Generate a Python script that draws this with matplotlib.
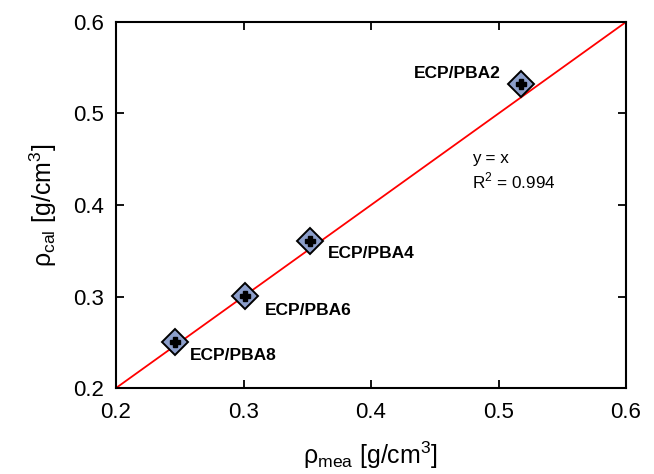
import numpy as np
import matplotlib.pyplot as plt

plt.rcParams['font.family'] = ['Liberation Sans', 'DejaVu Sans']

names = ['ECP/PBA8', 'ECP/PBA6', 'ECP/PBA4', 'ECP/PBA2']
rho_mea = [0.246, 0.301, 0.352, 0.518]
rho_cal = [0.250, 0.301, 0.361, 0.532]
# label offsets in data units
lab_dx = [0.012, 0.0155, 0.014, -0.084]
lab_dy = [-0.015, -0.016, -0.0135, 0.012]

fig = plt.figure(figsize=(6.54, 4.74), dpi=100)
ax = fig.add_axes([0.1774, 0.1814, 0.7798, 0.7722])

line = np.array([0.2, 0.6])
ax.plot(line, line, color='red', lw=1.3, zorder=1)

ax.plot(rho_mea, rho_cal, 'D', ms=13, mfc='#8c9fcb', mec='black', mew=1.4, ls='none', zorder=2)
ax.plot(rho_mea, rho_cal, 'P', ms=6.5, color='black', ls='none', zorder=3)

for n, xv, yv, dx, dy in zip(names, rho_mea, rho_cal, lab_dx, lab_dy):
    ax.text(xv + dx, yv + dy, n, fontsize=12.5, fontweight='bold', va='center', ha='left')

ax.text(0.479, 0.451, 'y = x', fontsize=12.3, va='center')
ax.text(0.479, 0.426, 'R$^\\mathregular{2}$ = 0.994', fontsize=12.3, va='center')

ax.set_xlim(0.2, 0.6)
ax.set_ylim(0.2, 0.6)
ax.set_xticks([0.2, 0.3, 0.4, 0.5, 0.6])
ax.set_yticks([0.2, 0.3, 0.4, 0.5, 0.6])
ax.set_xticklabels(['0.2', '0.3', '0.4', '0.5', '0.6'])
ax.set_yticklabels(['0.2', '0.3', '0.4', '0.5', '0.6'])
ax.tick_params(direction='in', top=True, right=True, length=6, width=1.3, labelsize=16)
ax.tick_params(axis='x', pad=10)
ax.tick_params(axis='y', pad=9)
for s in ax.spines.values():
    s.set_linewidth(1.5)

ax.set_xlabel('ρ$_\\mathregular{mea}$ [g/cm$^\\mathregular{3}$]', fontsize=18, labelpad=12)
ax.set_ylabel('ρ$_\\mathregular{cal}$ [g/cm$^\\mathregular{3}$]', fontsize=18, labelpad=10)

fig.savefig('out.png', dpi=100)
